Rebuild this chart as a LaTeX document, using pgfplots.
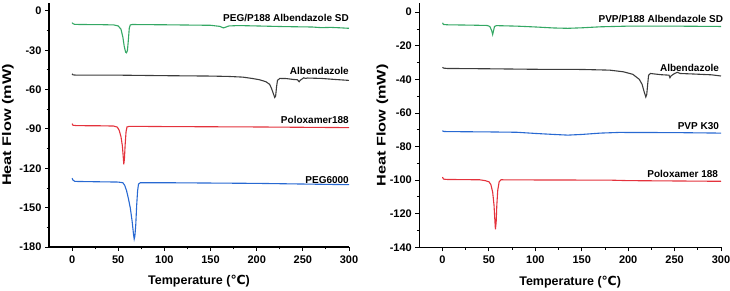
\documentclass[border=0pt]{standalone}
\usepackage{pgfplots}
\pgfplotsset{compat=1.18}
\usepackage{fontspec}
\setmainfont{Liberation Sans}
\newfontfamily\dejavu{DejaVu Sans}
\definecolor{cgreen}{RGB}{52,168,100}
\definecolor{cgray}{RGB}{60,60,60}
\definecolor{cred}{RGB}{228,50,60}
\definecolor{cblue}{RGB}{40,105,210}
\pgfplotsset{
  dsc/.style={
    scale only axis,
    axis x line*=bottom, axis y line*=left,
    axis line style={-, line width=1.1pt, black},
    xtick pos=bottom, ytick pos=left,
    tick align=outside,
    major tick length=4pt, minor tick length=2.5pt,
    every tick/.style={black, line width=0.9pt},
    minor x tick num=1, minor y tick num=1,
    xmin=-25, xmax=300,
    xtick={0,50,...,300},
    /pgf/number format/assume math mode=true,
    tick label style={font=\fontsize{11}{12}\selectfont\bfseries},
    xticklabel style={yshift=-1pt},
    xlabel={Temperature ({\dejavu\bfseries ℃})},
    xlabel style={font=\fontsize{12.5}{14}\selectfont\bfseries, at={(rel axis cs:0.5,0)}, anchor=center, yshift=-34.4pt},
    ylabel={\scalebox{1.3}[1]{Heat Flow (mW)}},
    every axis plot/.append style={line width=1.1pt, no markers},
    clip=false,
  }
}
\begin{document}
\begin{tikzpicture}
\useasboundingbox (0,0) rectangle (730pt,291pt);
% ---------------- left panel
\begin{axis}[dsc, at={(49pt,44pt)}, anchor=south west,
  width=300pt, height=244pt,
  ymin=-180, ymax=6, ytick={-180,-150,...,0},
  ylabel style={font=\fontsize{12.5}{14}\selectfont\bfseries, at={([xshift=-41pt]rel axis cs:0,0.5)}, anchor=center},
]
\addplot[cgreen] coordinates {(0,-9) (1,-9.8) (3,-10.3) (10,-10.4) (30,-10.5) (45,-10.7) (50,-11.5) (53,-14) (55,-20) (56.5,-27) (58,-31.5) (59,-32) (60,-30) (61,-22) (62,-13) (63,-10.8) (65,-10.4) (80,-10.5) (100,-10.6) (150,-11) (160,-11.8) (164,-13) (166,-12.5) (170,-11.5) (180,-11.2) (200,-11.5) (230,-12) (260,-12.3) (270,-12.8) (280,-12.6) (290,-12.9) (300,-13.3)};
\addplot[cgray] coordinates {(0,-48) (1,-48.8) (5,-49) (50,-49) (100,-49.4) (150,-49.7) (170,-50) (185,-50.5) (195,-51.5) (203,-52.5) (210,-54) (214,-56) (216,-59) (218,-63) (219.5,-66) (220.5,-65) (221.5,-58) (222.5,-53) (225,-51.5) (232,-51.6) (240,-52.3) (244,-52.5) (246,-54) (247,-53) (249,-52) (251,-51) (253,-51.5) (255,-51.2) (270,-51.5) (285,-52.3) (300,-53)};
\addplot[cred] coordinates {(0,-86) (1,-87.2) (5,-87.5) (30,-87.6) (45,-87.8) (49,-88.6) (51,-91) (53,-96) (54.5,-103) (55.5,-112) (56,-117) (56.7,-113) (57.5,-102) (58.5,-92) (59.5,-88.5) (62,-88) (100,-88.2) (200,-88.5) (300,-89)};
\addplot[cblue] coordinates {(0,-127.5) (1,-129) (3,-130) (20,-130.2) (50,-130.5) (55,-131) (57,-133) (59,-137) (61,-143) (63,-150) (65,-160) (66.5,-170) (67.3,-174) (68,-172) (69,-163) (70,-148) (71,-137) (72,-132) (74,-131) (100,-131) (200,-131.5) (300,-132.5)};
\begin{scope}[every node/.style={font=\fontsize{10}{12}\selectfont\bfseries, anchor=east, inner sep=0pt}]
\node at (axis cs:300,-5.5) {PEG/P188 Albendazole SD};
\node at (axis cs:300,-46) {Albendazole};
\node at (axis cs:300,-83) {Poloxamer188};
\node at (axis cs:300,-129) {PEG6000};
\end{scope}
\end{axis}
% ---------------- right panel
\begin{axis}[dsc, at={(419.3pt,43.7pt)}, anchor=south west,
  width=301.7pt, height=244pt,
  ymin=-140, ymax=5.3, ytick={-140,-120,...,0},
  ylabel style={font=\fontsize{12.5}{14}\selectfont\bfseries, at={([xshift=-37pt]rel axis cs:0,0.5)}, anchor=center},
]
\addplot[cgreen] coordinates {(0,-6.3) (1,-7.3) (5,-7.5) (30,-7.7) (48,-7.9) (51,-8.5) (53,-11) (54,-13.3) (55,-11) (56,-8.5) (58,-8) (80,-8.3) (100,-8.8) (120,-9.4) (135,-9.6) (150,-9.3) (170,-8.7) (200,-8.3) (250,-8.3) (300,-8.5)};
\addplot[cgray] coordinates {(0,-32.8) (1,-33.3) (5,-33.5) (50,-33.7) (100,-34) (150,-34.1) (180,-34.5) (195,-35.5) (205,-37) (212,-40) (215,-43) (217,-47) (219,-50.5) (220,-49) (221,-43) (222,-37.5) (224,-36.5) (235,-37.2) (244,-37.5) (245,-39) (246,-38) (250,-36.5) (253,-35.8) (256,-36.5) (270,-36.8) (290,-37.3) (300,-38)};
\addplot[cblue] coordinates {(0,-70.5) (1,-71) (5,-71.1) (50,-71.3) (80,-71.5) (100,-72.2) (120,-72.8) (135,-73.2) (150,-72.8) (170,-72) (190,-71.6) (250,-71.7) (300,-72)};
\addplot[cred] coordinates {(0,-98.2) (1,-99.4) (5,-99.6) (40,-99.8) (46,-100.3) (50,-101) (52,-102.5) (54,-107) (55.5,-115) (56.5,-125) (57,-129.3) (57.8,-125) (58.5,-115) (59.5,-106) (61,-101) (63,-99.8) (100,-99.9) (180,-100) (200,-100.3) (300,-100.7)};
\begin{scope}[every node/.style={font=\fontsize{10}{12}\selectfont\bfseries, anchor=east, inner sep=0pt}]
\node at (axis cs:302.5,-3.8) {PVP/P188 Albendazole SD};
\node at (axis cs:298,-33) {Albendazole};
\node at (axis cs:298,-68) {PVP K30};
\node at (axis cs:297,-96.6) {Poloxamer 188};
\end{scope}
\end{axis}
\end{tikzpicture}
\end{document}
